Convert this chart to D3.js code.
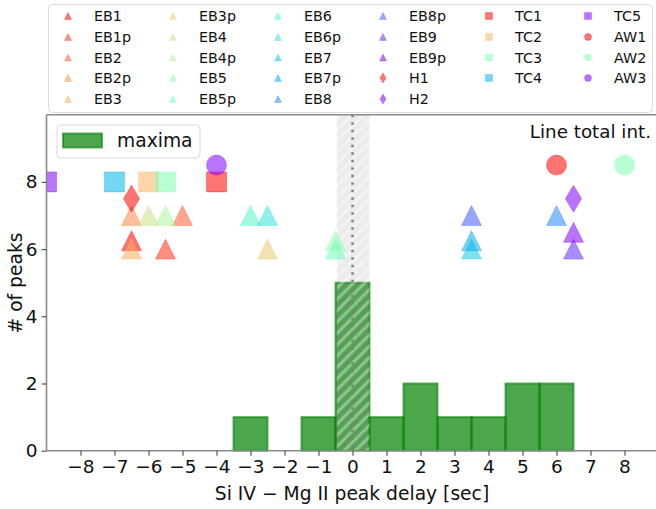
<!DOCTYPE html>
<html><head><meta charset="utf-8">
<script src="https://cdn.jsdelivr.net/npm/d3@7"></script>
<style>body{margin:0;background:#fff}svg{display:block;font-family:"DejaVu Sans",sans-serif}</style>
</head><body><svg id="c" width="656" height="509"></svg>
<script>
// ---- data ----
const binCenters = [-9,-8,-7,-6,-5,-4,-3,-2,-1,0,1,2,3,4,5,6,7,8];
const binCounts  = [ 0, 0, 0, 0, 0, 0, 1, 0, 1,5,1,2,1,1,2,2,0,0];
const xTicks = [-8,-7,-6,-5,-4,-3,-2,-1,0,1,2,3,4,5,6,7,8];
const yTicks = [0,2,4,6,8];

const ebLabels = ["EB1","EB1p","EB2","EB2p","EB3","EB3p","EB4","EB4p","EB5","EB5p","EB6","EB6p","EB7","EB7p","EB8","EB8p","EB9","EB9p"];
const ebX      = [-6.5, -5.5, -5, -6.5, -6.5, -2.5, -6, -5.5, -0.5, -0.5, -3, -2.5, 3.5, 3.5, 6, 3.5, 6.5, 6.5];
const ebY      = [6.25, 6, 7, 7, 6, 6, 7, 7, 6.25, 6, 7, 7, 6, 6.25, 7, 7, 6, 6.5];
const hLabels = ["H1","H2"];
const hX = [-6.5, 6.5];
const hY = [7.5, 7.5];
const tcLabels = ["TC1","TC2","TC3","TC4","TC5"];
const tcX = [-4, -6, -5.5, -7, -9];
const tcY = [8, 8, 8, 8, 8];
const awLabels = ["AW1","AW2","AW3"];
const awX = [6, 8, -4];
const awY = [8.5, 8.5, 8.5];

// ---- helpers ----
function rainbow(t){ // matplotlib 'rainbow'
  const r = Math.min(1,Math.abs(2*t-0.5)), g = Math.sin(Math.PI*t), b = Math.cos(Math.PI*t/2);
  return d3.rgb(r*255,g*255,b*255).toString();
}
function groupColors(n){ return d3.range(n).map(i => rainbow(n===1?1:1 - i/(n-1))); }

const groups = [
  {labels:ebLabels, xs:ebX, ys:ebY, shape:"tri"},
  {labels:hLabels, xs:hX, ys:hY, shape:"dia"},
  {labels:tcLabels, xs:tcX, ys:tcY, shape:"sq"},
  {labels:awLabels, xs:awX, ys:awY, shape:"circ"}
];
const items = [];
groups.forEach(g => { const cols = groupColors(g.labels.length);
  g.labels.forEach((l,i)=>items.push({label:l, x:g.xs[i], y:g.ys[i], shape:g.shape, color:cols[i]})); });

function shapePath(shape, s){ // s = marker size (px)
  const h = s/2;
  if(shape==="tri") return `M0,${-h}L${h},${h}L${-h},${h}Z`;
  if(shape==="sq") return `M${-h},${-h}H${h}V${h}H${-h}Z`;
  if(shape==="dia"){ const w=s*0.3; return `M0,${-h}L${w},0L0,${h}L${-w},0Z`; }
  if(shape==="circ") return `M${h},0A${h},${h} 0 1,1 ${-h},0A${h},${h} 0 1,1 ${h},0Z`;
}

// ---- layout ----
const svg = d3.select("#c");
const L = 46.5, R = 658.5, T = 114.7, B = 450.7;
const x = d3.scaleLinear().domain([-9,9]).range([L,R]);
const y = d3.scaleLinear().domain([0,10]).range([B,T]);
const alpha = 0.55;

const defs = svg.append("defs");
defs.append("clipPath").attr("id","clip").append("rect").attr("x",L).attr("y",T-2).attr("width",R-L).attr("height",B-T+4);
const pat = defs.append("pattern").attr("id","hatch").attr("patternUnits","userSpaceOnUse")
  .attr("width",8).attr("height",8).attr("patternTransform","rotate(45)");
pat.append("rect").attr("width",8).attr("height",8).attr("fill","rgba(128,128,128,0.16)");
pat.append("line").attr("x1",2).attr("x2",2).attr("y1",0).attr("y2",8).attr("stroke","rgba(255,255,255,0.38)").attr("stroke-width",3);

const plot = svg.append("g").attr("clip-path","url(#clip)");

// histogram
plot.selectAll("rect.bar").data(binCenters.map((c,i)=>({c, n:binCounts[i]}))).join("rect")
  .attr("class","bar")
  .attr("x", d=>x(d.c-0.5)).attr("width", d=>x(d.c+0.5)-x(d.c-0.5))
  .attr("y", d=>y(d.n)).attr("height", d=>y(0)-y(d.n))
  .attr("fill","rgb(0,128,0)").attr("fill-opacity",0.7)
  .attr("stroke","rgb(0,128,0)").attr("stroke-opacity",0.6).attr("stroke-width",2);

// band
plot.append("rect").attr("x",x(-0.46)).attr("width",x(0.5)-x(-0.46)).attr("y",T).attr("height",B-T).attr("fill","url(#hatch)");
plot.append("line").attr("x1",x(0)).attr("x2",x(0)).attr("y1",T).attr("y2",B)
  .attr("stroke","#808080").attr("stroke-width",2.5).attr("stroke-dasharray","2.5,5");

// markers
plot.selectAll("path.mk").data(items).join("path").attr("class","mk")
  .attr("transform", d=>`translate(${x(d.x)},${y(d.y)})`)
  .attr("d", d=>shapePath(d.shape, d.shape==="dia"?27:20))
  .attr("fill", d=>d.color).attr("fill-opacity",alpha)
  .attr("stroke", d=>d.color).attr("stroke-opacity",alpha*0.6).attr("stroke-width",1);

// spines
svg.append("line").attr("x1",L).attr("x2",L).attr("y1",T).attr("y2",B).attr("stroke","#8a8a8a").attr("stroke-width",1.6);
svg.append("line").attr("x1",L).attr("x2",R).attr("y1",T).attr("y2",T).attr("stroke","#8a8a8a").attr("stroke-width",1.6);
svg.append("line").attr("x1",L).attr("x2",R).attr("y1",B).attr("y2",B).attr("stroke","#8a8a8a").attr("stroke-width",1.6);

// axes
const xAxis = svg.append("g").attr("transform",`translate(0,${B})`)
  .call(d3.axisBottom(x).tickValues(xTicks).tickSize(5).tickPadding(4).tickFormat(d=>d<0?"\u2212"+Math.abs(d):d));
xAxis.select(".domain").remove();
xAxis.selectAll("line").attr("stroke","#555").attr("stroke-width",1.2);
xAxis.selectAll("text").attr("font-size",18.5).attr("fill","#111").attr("font-family","DejaVu Sans");
const yAxis = svg.append("g").attr("transform",`translate(${L},0)`)
  .call(d3.axisLeft(y).tickValues(yTicks).tickSize(5).tickPadding(4));
yAxis.select(".domain").remove();
yAxis.selectAll("line").attr("stroke","#555").attr("stroke-width",1.2);
yAxis.selectAll("text").attr("font-size",18.5).attr("fill","#111").attr("font-family","DejaVu Sans");

svg.append("text").attr("x",352).attr("y",500).attr("text-anchor","middle").attr("font-size",18.7).attr("fill","#111")
  .text("Si IV \u2212 Mg II peak delay [sec]");
svg.append("text").attr("transform","translate(22,283) rotate(-90)").attr("text-anchor","middle").attr("font-size",18.7).attr("fill","#111")
  .text("# of peaks");
svg.append("text").attr("x",651).attr("y",138).attr("text-anchor","end").attr("font-size",18.3).attr("fill","#111")
  .text("Line total int.");

// maxima legend
svg.append("rect").attr("x",57).attr("y",125).attr("width",143).attr("height",33).attr("rx",4)
  .attr("fill","rgba(255,255,255,0.8)").attr("stroke","#d8d8d8").attr("stroke-width",1);
svg.append("rect").attr("x",63).attr("y",133.5).attr("width",39).attr("height",14)
  .attr("fill","rgb(0,128,0)").attr("fill-opacity",0.7).attr("stroke","rgb(0,128,0)").attr("stroke-opacity",0.6).attr("stroke-width",2);
svg.append("text").attr("x",117).attr("y",147).attr("font-size",18.7).attr("fill","#111").text("maxima");

// marker legend (6 columns, column-major: 5,5,5,5,4,4)
svg.append("rect").attr("x",48.5).attr("y",4.5).attr("width",604).attr("height",108).attr("rx",4)
  .attr("fill","#fff").attr("stroke","#dcdcdc").attr("stroke-width",1);
const colX = [68,173,278,383,489,588];
const rowY = [16,37,57.5,78,99];
const colSizes = [5,5,5,5,4,4];
const lg = svg.append("g");
let idx = 0;
colSizes.forEach((n,c)=>{
  for(let r=0;r<n;r++){
    const d = items[idx++];
    const g = lg.append("g").attr("transform",`translate(${colX[c]},${rowY[r]})`);
    g.append("path").attr("d", shapePath(d.shape, d.shape==="dia"?10:7)).attr("fill",d.color).attr("fill-opacity",alpha)
      .attr("stroke",d.color).attr("stroke-opacity",alpha*0.6).attr("stroke-width",0.8);
    g.append("text").attr("x",26).attr("y",5.2).attr("font-size",14.3).attr("fill","#111").text(d.label);
  }
});
</script></body></html>
